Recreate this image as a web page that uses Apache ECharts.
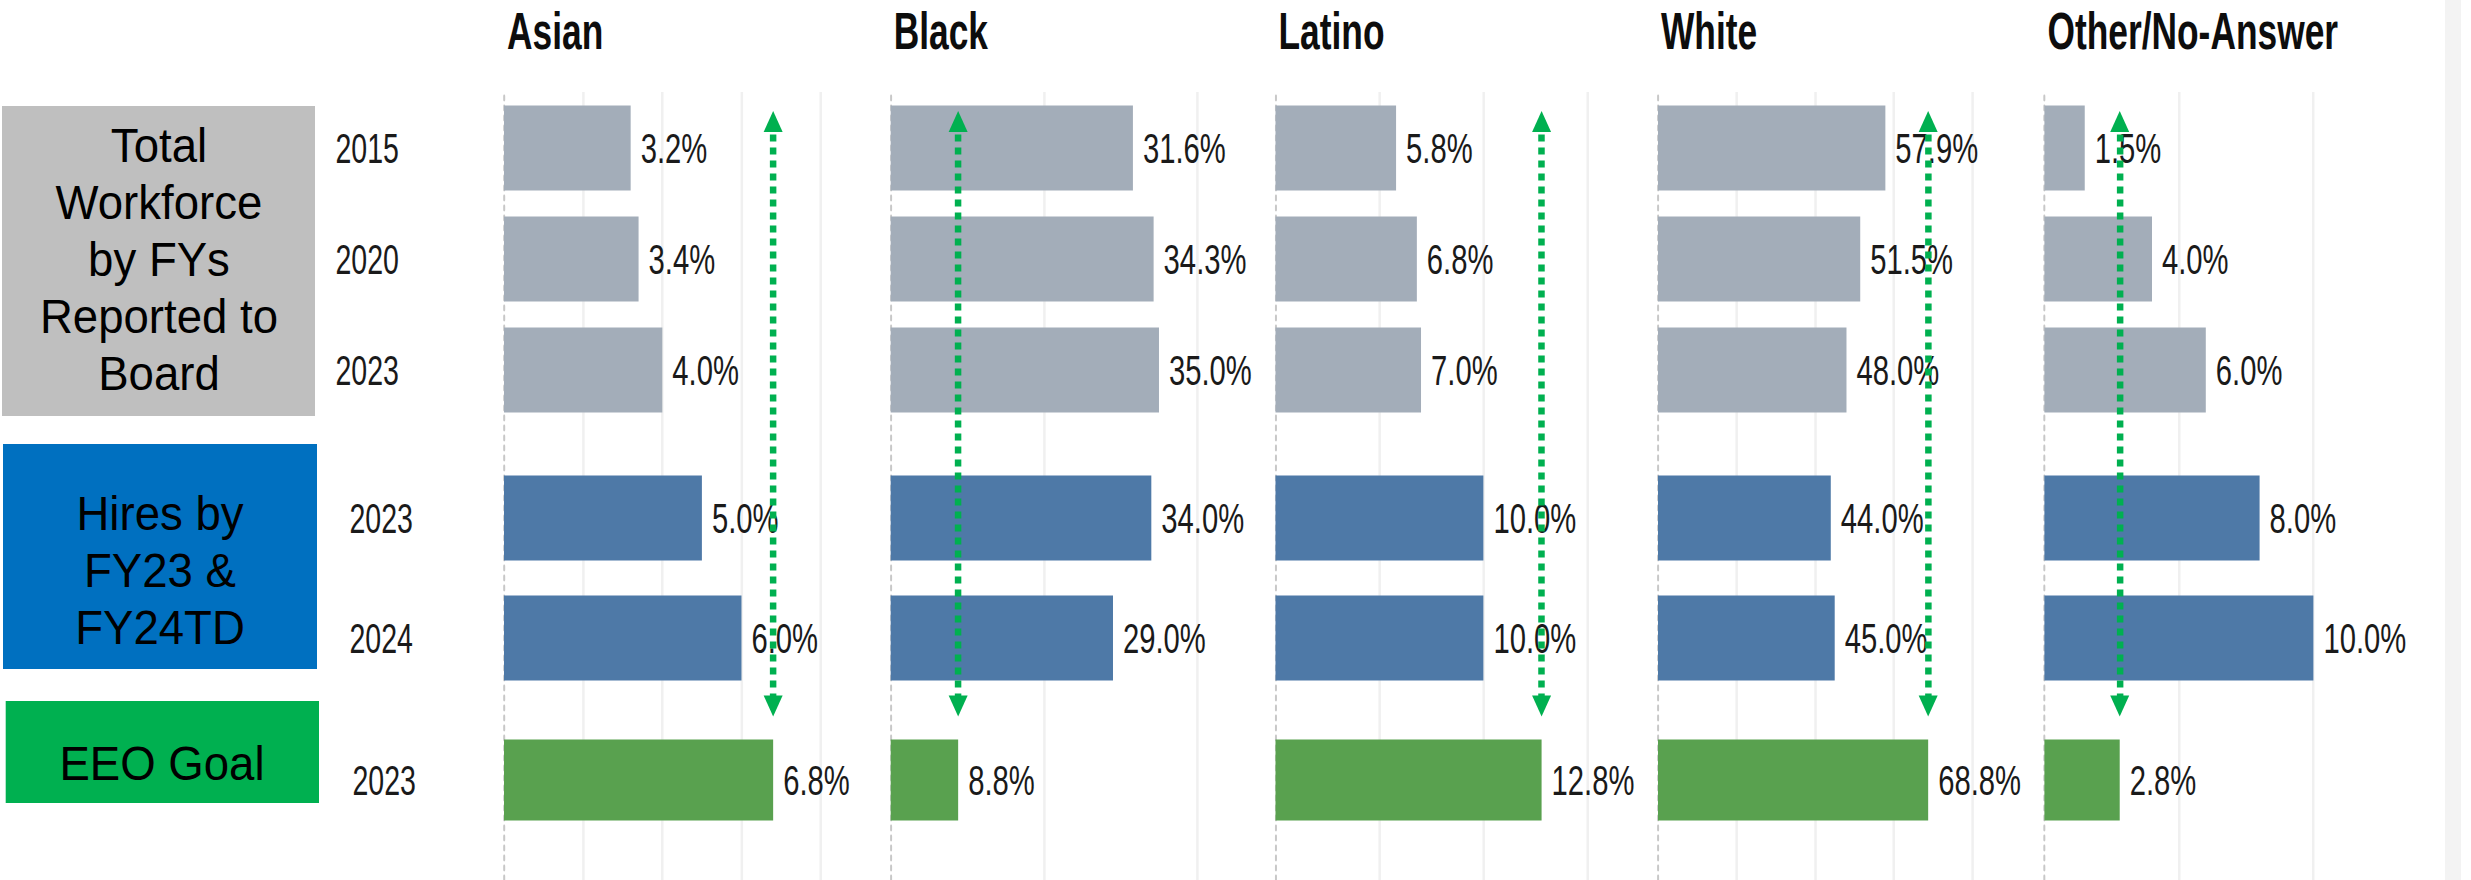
<!DOCTYPE html>
<html>
<head>
<meta charset="utf-8">
<script src="https://cdn.jsdelivr.net/npm/echarts@6.0.0/dist/echarts.min.js"></script>
<style>
  html, body { margin: 0; padding: 0; background: #ffffff; overflow: hidden; width: 2471px; height: 880px; }
  #chart { position: absolute; left: 0; top: 0; transform-origin: 0 0; }
</style>
</head>
<body>
<div id="chart"></div>
<script>
// ---------------- data ----------------
const groups = ['Asian', 'Black', 'Latino', 'White', 'Other/No-Answer'];
const workforceYears = ['2015', '2020', '2023'];
const hiresYears = ['2023', '2024'];
const goalYears = ['2023'];
const workforce2015 = [3.2, 31.6, 5.8, 57.9, 1.5];
const workforce2020 = [3.4, 34.3, 6.8, 51.5, 4.0];
const workforce2023 = [4.0, 35.0, 7.0, 48.0, 6.0];
const hires2023 = [5.0, 34.0, 10.0, 44.0, 8.0];
const hires2024 = [6.0, 29.0, 10.0, 45.0, 10.0];
const eeoGoal2023 = [6.8, 8.8, 12.8, 68.8, 2.8];
const axisMax = [9.77, 50.2, 18.4, 98.4, 14.35];
const tickStep = [2, 20, 5, 20, 5];
const sectionLabels = ['Total\nWorkforce\nby FYs\nReported to\nBoard', 'Hires by\nFY23 &\nFY24TD', 'EEO Goal'];

// ---------------- layout (reference pixels) ----------------
const VW = 3634, H = 880;
const k = 2471 / VW;            // horizontal compression of the reference
const vx = x => x / k;
const panelLeft = [504, 890.7, 1275.5, 1658, 2044.4];
const panelWidth = [386.7, 384.8, 382.5, 386.4, 386];
const sections = [
  { top: 92.5, height: 333, bar: 85, margin: 105, color: '#a3adb9' },
  { top: 458, height: 240, bar: 85, margin: 91, color: '#4e79a7' },
  { top: 720, height: 120, bar: 81, margin: 88, color: '#59a14f' }
];
const sectionData = [
  p => [workforce2015[p], workforce2020[p], workforce2023[p]],
  p => [hires2023[p], hires2024[p]],
  p => [eeoGoal2023[p]]
];
const sectionYears = [workforceYears, hiresYears, goalYears];
const FONT = 'Liberation Sans';
const TXT = '#1a1a1a';

const dom = document.getElementById('chart');
dom.style.width = VW + 'px';
dom.style.height = H + 'px';
dom.style.transform = 'scaleX(' + k + ')';
const chart = echarts.init(dom, null, { renderer: 'svg', width: VW, height: H });

const grid = [], xAxis = [], yAxis = [], series = [];

// background grids: gridlines + dashed zero line
groups.forEach((g, p) => {
  grid.push({ left: vx(panelLeft[p]), width: vx(panelWidth[p]), top: 92, height: 788 });
  xAxis.push({
    type: 'value', gridIndex: p, min: 0, max: axisMax[p], interval: tickStep[p],
    axisLine: { show: false }, axisTick: { show: false }, axisLabel: { show: false },
    splitLine: { show: true, showMinLine: false, showMaxLine: false,
      lineStyle: { color: '#f0f0f0', width: vx(2.5) } }
  });
  yAxis.push({
    type: 'value', gridIndex: p, min: 0, max: 1,
    axisLine: { show: true, lineStyle: { color: '#c8c8c8', width: vx(2), type: [4, 6] } },
    axisTick: { show: false }, axisLabel: { show: false }, splitLine: { show: false }
  });
});

// section grids with bars
sections.forEach((sec, s) => {
  groups.forEach((g, p) => {
    const gi = grid.length;
    grid.push({ left: vx(panelLeft[p]), width: vx(panelWidth[p]), top: sec.top, height: sec.height });
    xAxis.push({ type: 'value', gridIndex: gi, min: 0, max: axisMax[p], show: false, splitLine: { show: false } });
    yAxis.push({
      type: 'category', gridIndex: gi, data: sectionYears[s], inverse: true,
      axisLine: { show: false }, axisTick: { show: false }, splitLine: { show: false },
      axisLabel: { show: p === 0, margin: vx(sec.margin), fontSize: 42, color: TXT, fontFamily: FONT }
    });
    const ser = {
      type: 'bar', xAxisIndex: gi, yAxisIndex: gi,
      data: sectionData[s](p), barWidth: sec.bar, clip: false,
      itemStyle: { color: sec.color },
      label: { show: true, position: 'right', distance: vx(10), fontSize: 43, color: TXT, fontFamily: FONT,
        formatter: prm => prm.value.toFixed(1) + '%' },
      silent: true
    };
    if (s === 2) {
      ser.markLine = {
        silent: true, animation: false,
        symbol: ['triangle', 'triangle'], symbolSize: [vx(19), 21],
        label: { show: false },
        lineStyle: { color: '#00b050', width: vx(6.5), type: [7, 6], opacity: 1 },
        emphasis: { disabled: true },
        data: [[ { xAxis: eeoGoal2023[p], y: sections[0].top + 29 }, { xAxis: eeoGoal2023[p], y: sections[2].top - 14 } ]]
      };
    }
    series.push(ser);
  });
});

const titles = groups.map((g, p) => ({
  text: g, left: vx(panelLeft[p] + 3), top: 5, padding: 0,
  textStyle: { fontSize: 52, fontWeight: 'bold', color: '#0d0d0d', fontFamily: FONT }
}));

const boxText = (text, cx, cy) => ({
  type: 'text', x: vx(cx), y: cy, scaleX: 0.93 / k, z: 10,
  style: { text: text, fill: '#000000', fontSize: 49, fontFamily: FONT, lineHeight: 57,
    align: 'center', verticalAlign: 'middle' }
});

const graphic = [
  { type: 'rect', shape: { x: vx(2), y: 106, width: vx(313), height: 310 }, style: { fill: '#bfbfbf' } },
  { type: 'rect', shape: { x: vx(3), y: 444, width: vx(314), height: 225 }, style: { fill: '#0070c0' } },
  { type: 'rect', shape: { x: vx(5.7), y: 701, width: vx(313.3), height: 102 }, style: { fill: '#00b050' } },
  boxText(sectionLabels[0], 159, 259),
  boxText(sectionLabels[1], 160, 570),
  boxText(sectionLabels[2], 162, 763),
  { type: 'rect', shape: { x: vx(2445), y: 0, width: vx(16), height: 880 }, style: { fill: '#f3f3f3' } }
];

chart.setOption({
  animation: false,
  backgroundColor: '#ffffff',
  title: titles,
  grid: grid, xAxis: xAxis, yAxis: yAxis, series: series,
  graphic: graphic
});
</script>
</body>
</html>
